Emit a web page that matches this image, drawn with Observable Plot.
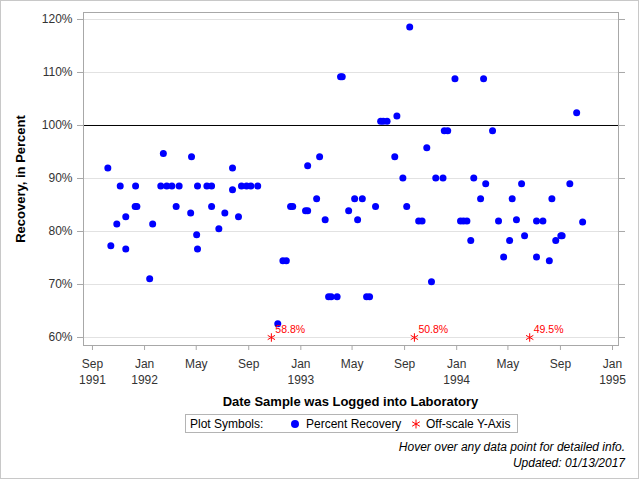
<!DOCTYPE html>
<html>
<head>
<meta charset="utf-8">
<script src="https://cdn.jsdelivr.net/npm/d3@7"></script>
<script src="https://cdn.jsdelivr.net/npm/@observablehq/plot@0.6"></script>
<style>
  body { margin: 0; background: #fff; font-family: "Liberation Sans", Arial, sans-serif; }
  #chart { position: relative; width: 640px; height: 480px; overflow: hidden; }
  #chart > svg { position: absolute; left: 0; top: 0; }
  #border { position: absolute; left: 0; top: 0; width: 637px; height: 477px; border: 1px solid #c8c8c8; pointer-events: none; }
  .ytitle { position: absolute; left: 20px; top: 178.5px; transform: translate(-50%, -50%) rotate(-90deg);
            white-space: nowrap; font-weight: bold; font-size: 13px; color: #000; }
  .xtitle { position: absolute; left: 350.5px; top: 401px; transform: translate(-50%, -50%);
            white-space: nowrap; font-weight: bold; font-size: 13px; color: #000; }
  .legend { position: absolute; left: 185px; top: 414px; width: 333px; height: 19px; box-sizing: border-box;
            border: 1px solid #b4b4b4; font-size: 12px; color: #000; }
  .legend span { position: absolute; top: 50%; transform: translateY(-50%); white-space: nowrap; }
  .legend svg { position: absolute; top: 50%; transform: translate(-50%, -50%); overflow: visible; }
  .note { position: absolute; right: 15px; white-space: nowrap; font-style: italic; font-size: 12px; color: #000;
          transform: translateY(-50%); }
</style>
</head>
<body>
<div id="chart"></div>
<script>
// Sample log dates and percent recovery for each sample
const sampleDates = [
  "1991-10-07","1991-10-14","1991-10-28","1991-11-05","1991-11-18","1991-11-18","1991-12-10","1991-12-11","1991-12-14",
  "1992-01-13","1992-01-20","1992-02-08","1992-02-14","1992-02-22","1992-03-05","1992-03-15","1992-03-22","1992-04-18",
  "1992-04-20","1992-05-02","1992-05-04","1992-05-04","1992-05-26","1992-06-06","1992-06-06","1992-06-23","1992-07-07",
  "1992-07-25","1992-07-25","1992-08-08","1992-08-15","1992-08-27","1992-09-06","1992-09-22","1992-11-08","1992-11-20",
  "1992-11-28","1992-12-08","1992-12-13","1993-01-12","1993-01-17","1993-01-17","1993-02-07","1993-02-14","1993-02-27",
  "1993-03-07","1993-03-13","1993-03-27","1993-04-04","1993-04-08","1993-04-23","1993-05-07","1993-05-14","1993-05-25",
  "1993-06-04","1993-06-11","1993-06-25","1993-07-07","1993-07-13","1993-07-22","1993-08-09","1993-08-14","1993-08-28",
  "1993-09-06","1993-09-13","1993-10-04","1993-10-12","1993-10-23","1993-11-03","1993-11-13","1993-11-30","1993-12-03",
  "1993-12-11","1993-12-28","1994-01-10","1994-01-17","1994-01-25","1994-02-03","1994-02-10","1994-02-26","1994-03-05",
  "1994-03-10","1994-03-26","1994-04-09","1994-04-21","1994-05-05","1994-05-11","1994-05-21","1994-06-02","1994-06-09",
  "1994-07-07","1994-07-07","1994-07-22","1994-08-06","1994-08-12","1994-08-21","1994-09-02","1994-09-05","1994-09-23",
  "1994-10-09","1994-10-23"
];
const recovery = [
  92.0, 77.3, 81.4, 88.6, 82.8, 76.7, 84.7, 88.6, 84.7,
  71.1, 81.4, 88.6, 94.7, 88.6, 88.6, 84.7, 88.6, 83.5,
  94.1, 79.4, 88.6, 76.7, 88.6, 88.6, 84.7, 80.5, 83.5,
  92.0, 87.9, 82.8, 88.6, 88.6, 88.6, 88.6, 62.6, 74.5,
  74.5, 84.7, 84.7, 83.9, 83.9, 92.4, 86.2, 94.1, 82.2,
  67.7, 67.7, 67.7, 109.2, 109.2, 83.9, 86.2, 82.2, 86.2,
  67.7, 67.7, 84.7, 100.8, 100.8, 100.8, 94.1, 101.8, 90.1,
  84.7, 118.6, 82.0, 82.0, 95.8, 70.5, 90.1, 90.1, 99.0,
  99.0, 108.8, 82.0, 82.0, 82.0, 78.3, 90.1, 86.2, 108.8,
  89.0, 99.0, 82.0, 75.2, 78.3, 86.2, 82.2, 89.0, 79.2,
  82.0, 75.2, 82.0, 74.5, 86.2, 78.3, 79.2, 79.2, 89.0,
  102.4, 81.8
];

// Samples whose recovery falls below the axis floor
const offscaleDates = ["1992-10-24", "1993-09-24", "1994-06-21"];
const offscaleValues = [58.8, 50.8, 49.5];

// Axis ticks and labels
const yTicks = [60, 70, 80, 90, 100, 110, 120];
const yFloor = 60;
const targetLine = [100];
const xTickDates = ["1991-09-01","1992-01-01","1992-05-01","1992-09-01","1993-01-01","1993-05-01",
                    "1993-09-01","1994-01-01","1994-05-01","1994-09-01","1995-01-01"];
const xTickLabels = ["Sep\n1991","Jan\n1992","May","Sep","Jan\n1993","May",
                     "Sep","Jan\n1994","May","Sep","Jan\n1995"];

const samples = sampleDates.map((d, i) => ({date: new Date(d), value: recovery[i]}));
const offscale = offscaleDates.map((d, i) => ({date: new Date(d), value: offscaleValues[i]}));
const tickDates = xTickDates.map(d => new Date(d));
const tickLabel = new Map(tickDates.map((d, i) => [+d, xTickLabels[i]]));
const fmt = d3.utcFormat("%m/%d/%Y");

const axisGray = "#a8a8a8";

const plot = Plot.plot({
  width: 640,
  height: 480,
  marginLeft: 83,
  marginRight: 22,
  marginTop: 12,
  marginBottom: 135,
  style: {fontFamily: "'Liberation Sans', Arial, sans-serif", fontSize: "12px", color: "#333", background: "transparent"},
  x: {type: "utc", domain: [new Date("1991-08-11"), new Date("1995-01-15")]},
  y: {domain: [58.49, 121.32]},
  marks: [
    Plot.gridY(yTicks, {stroke: "#e2e2e2", strokeOpacity: 1}),
    Plot.ruleY(targetLine, {stroke: "#000", strokeWidth: 1}),
    Plot.frame({stroke: axisGray}),
    Plot.axisY(yTicks, {anchor: "left", tickSize: 6, tickPadding: 5, tickFormat: d => d + "%",
      label: null, stroke: axisGray, fill: "#333"}),
    // tick marks only on the right edge
    Plot.axisY(yTicks, {anchor: "right", tickSize: 6, tickFormat: () => "", label: null, stroke: axisGray}),
    Plot.axisX(tickDates, {anchor: "bottom", tickSize: 5, tickPadding: 6, lineHeight: 1.35,
      tickFormat: d => tickLabel.get(+d), label: null, stroke: axisGray, fill: "#333"}),
    Plot.dot(samples, {x: "date", y: "value", r: 3.5, fill: "#0000ff", stroke: null,
      title: d => `Logged: ${fmt(d.date)}\nRecovery: ${d.value}%`}),
    Plot.dot(offscale, {x: "date", y: () => yFloor, symbol: "asterisk", r: 4, stroke: "#ff0000", strokeWidth: 1,
      title: d => `Logged: ${fmt(d.date)}\nRecovery: ${d.value}% (off-scale)`}),
    Plot.text(offscale, {x: "date", y: () => yFloor, text: d => d.value.toFixed(1) + "%", dx: 4, dy: -8,
      textAnchor: "start", fill: "#ff0000", fontSize: 10.5})
  ]
});

const chart = document.getElementById("chart");
chart.appendChild(plot);

function addDiv(cls, text, style) {
  const el = document.createElement("div");
  el.className = cls;
  el.textContent = text;
  if (style) Object.assign(el.style, style);
  chart.appendChild(el);
  return el;
}

addDiv("ytitle", "Recovery, in Percent");
addDiv("xtitle", "Date Sample was Logged into Laboratory");

// Legend box
const legend = addDiv("legend", "");
function legendText(text, left) {
  const s = document.createElement("span");
  s.textContent = text;
  s.style.left = left + "px";
  legend.appendChild(s);
}
function legendSymbol(type, color, left, filled) {
  const svg = d3.create("svg").attr("width", 10).attr("height", 10).style("left", left + "px");
  svg.append("path")
    .attr("transform", "translate(5,5)")
    .attr("d", d3.symbol(type, filled ? 50 : 56)())
    .attr("fill", filled ? color : "none")
    .attr("stroke", filled ? "none" : color);
  legend.appendChild(svg.node());
}
legendText("Plot Symbols:", 4);
legendSymbol(d3.symbolCircle, "#0000ff", 109, true);
legendText("Percent Recovery", 120);
legendSymbol(d3.symbolAsterisk, "#ff0000", 230, false);
legendText("Off-scale Y-Axis", 240);

addDiv("note", "Hover over any data point for detailed info.", {top: "447px"});
addDiv("note", "Updated: 01/13/2017", {top: "463px"});

const border = document.createElement("div");
border.id = "border";
chart.appendChild(border);
</script>
</body>
</html>
